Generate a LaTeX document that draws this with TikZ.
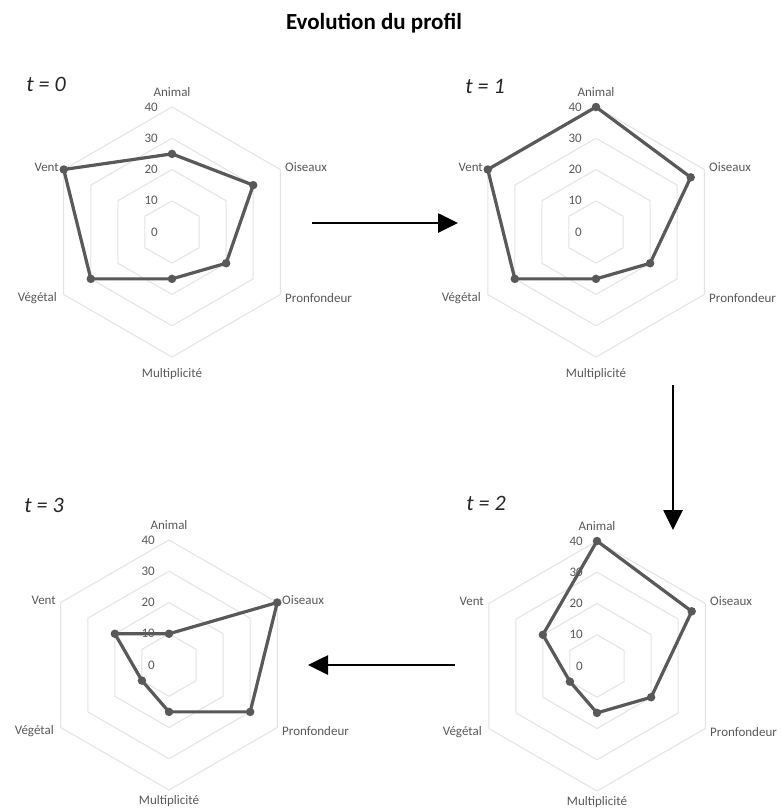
\documentclass[tikz,border=0pt]{standalone}
\usepackage{fontspec}
\setmainfont{Carlito}
\usetikzlibrary{arrows.meta}
\definecolor{dgray}{HTML}{595959}
\definecolor{lgray}{HTML}{E3E3E3}
\tikzset{
  gridline/.style={draw=lgray, line width=1pt, line join=round},
  ticklbl/.style={font=\fontsize{13}{14}\selectfont, text=dgray, anchor=east, inner sep=0pt},
  catlbl/.style={font=\fontsize{13}{14}\selectfont, text=dgray, inner sep=0pt},
  series/.style={draw=dgray, line width=3.2pt, line join=round},
  dot/.style={circle, fill=dgray, minimum size=8.5pt, inner sep=0pt},
  flow/.style={line width=2.7pt, -{Triangle[length=20pt,width=19pt]}},
  tlbl/.style={font=\fontsize{22}{24}\selectfont\itshape, text=black!85, inner sep=0pt},
  titlelbl/.style={font=\fontsize{23}{26}\selectfont\bfseries, text=black, inner sep=0pt},
}
\def\mulpos{142}
\newcommand\radarchart[9]{%
\begin{scope}[shift={(#1,#2)}]
  \foreach \k in {1,2,3,4}{\draw[gridline] (-90:\k*31.25) -- (-30:\k*31.25) -- (30:\k*31.25) -- (90:\k*31.25) -- (150:\k*31.25) -- (210:\k*31.25) -- cycle;}
  \node[catlbl] (#3la) at (0,-140) {Animal};
  \node[catlbl, anchor=west] (#3lo) at (113,-65) {Oiseaux};
  \node[catlbl, anchor=west] (#3lp) at (113,66) {Pronfondeur};
  \node[catlbl] (#3lm) at (0,\mulpos) {Multiplicité};
  \node[catlbl, anchor=east] (#3lv) at (-115,66) {Végétal};
  \node[catlbl, anchor=east] (#3lw) at (-113,-65) {Vent};
  \foreach \v [count=\i from 0] in {0,10,20,30,40} \node[ticklbl] (#3t\v) at (-14,-\i*31.25) {\v};
  \coordinate (#3a) at (-90:#4*3.125);
  \coordinate (#3o) at (-30:#5*3.125);
  \coordinate (#3p) at (30:#6*3.125);
  \coordinate (#3m) at (90:#7*3.125);
  \coordinate (#3v) at (150:#8*3.125);
  \coordinate (#3w) at (210:#9*3.125);
  \draw[series] (#3a) -- (#3o) -- (#3p) -- (#3m) -- (#3v) -- (#3w) -- cycle;
  \foreach \c in {a,o,p,m,v,w} \node[dot] (#3d\c) at (#3\c) {};
\end{scope}}
\begin{document}
\begin{tikzpicture}[x=1pt,y=-1pt]
  \useasboundingbox (0,0) rectangle (780,812);
  \clip (0,0) rectangle (780,812);
  \fill[white] (0,0) rectangle (780,812);
  \node[titlelbl] (title) at (374,23) {Evolution du profil};
  \node[tlbl] (t0) at (46,84) {t = 0};
  \node[tlbl] (t1) at (485,87) {t = 1};
  \node[tlbl] (t2) at (486,503) {t = 2};
  \node[tlbl] (t3) at (44,505) {t = 3};
  \radarchart{172}{232}{c0}{25}{30}{20}{15}{30}{40}
  \radarchart{596}{232}{c1}{40}{35}{20}{15}{30}{40}
  \def\mulpos{136}
  \radarchart{597}{666}{c2}{40}{35}{20}{15}{10}{20}
  \radarchart{169}{665}{c3}{10}{40}{30}{15}{10}{20}
  \coordinate (a1s) at (312,223);
  \coordinate (a1e) at (458,223);
  \coordinate (a2s) at (673,385);
  \coordinate (a2e) at (673,530);
  \coordinate (a3s) at (455,665);
  \coordinate (a3e) at (308,665);
  \draw[flow] (a1s) -- (a1e);
  \draw[flow] (a2s) -- (a2e);
  \draw[flow] (a3s) -- (a3e);
\end{tikzpicture}
\end{document}
